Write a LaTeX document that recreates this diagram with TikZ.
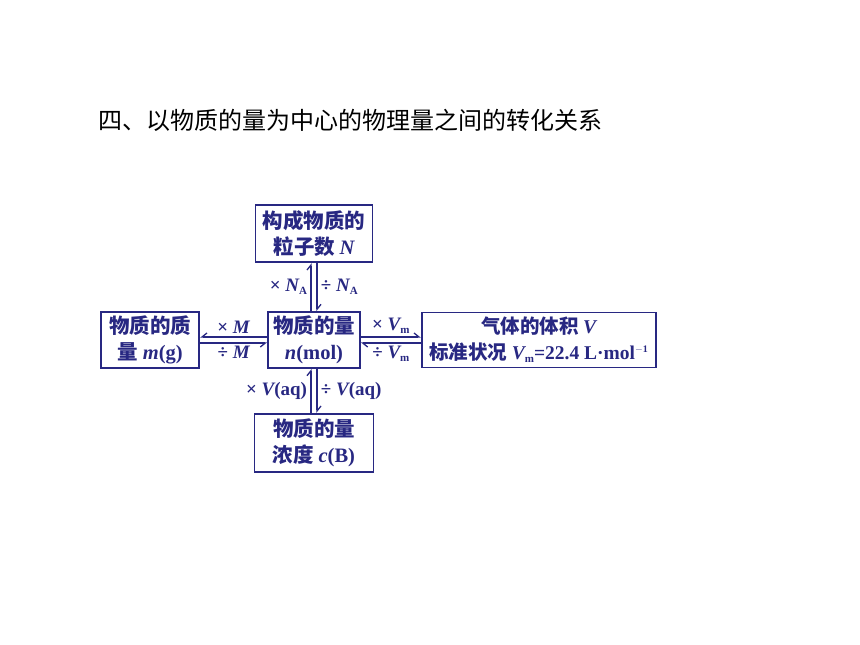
\documentclass[tikz,border=0pt]{standalone}
\usepackage{fontspec}
\setmainfont{Liberation Serif}
\newfontfamily\cjk{Noto Sans CJK SC}
\usetikzlibrary{positioning,arrows.meta}
\definecolor{navy}{RGB}{40,40,130}
\newcommand\qvar[1]{{\rmfamily\itshape #1}}
\newcommand\qsub[1]{\raisebox{-3pt}{\rmfamily\upshape\fontsize{11}{11}\selectfont #1}}

\begin{document}
\begin{tikzpicture}[x=1pt,y=-1pt,
    box/.style={draw=navy, line width=1.7pt, text=navy, align=center, inner sep=1pt,
      font=\cjk\bfseries\fontsize{20.5}{26}\selectfont},
    conv/.style={draw=navy, line width=1.3pt, text=navy,
      font=\rmfamily\bfseries\fontsize{19}{19}\selectfont},
    harpl/.style={conv, -{Straight Barb[left, length=5pt, width=8pt]}},
    harpr/.style={conv, -{Straight Barb[right, length=5pt, width=8pt]}}]
    \useasboundingbox (0,0) rectangle (860,645);
    \node (title) [anchor=west, font=\cjk\fontsize{24}{24}\selectfont] at (95,120) {四、以物质的量为中心的物理量之间的转化关系};
    \node (amount) [box, minimum width=92pt, minimum height=56pt] at (314,340) {物质的量\\\qvar{n}{\rmfamily(mol)}};
    \node (particles) [box, minimum width=117pt, minimum height=57pt, above=48pt of amount] {构成物质的\\粒子数 \qvar{N}};
    \node (mass) [box, minimum width=98pt, minimum height=56pt, left=67pt of amount] {物质的质\\量 \qvar{m}{\rmfamily(g)}};
    \node (gas) [box, minimum width=234pt, minimum height=55pt, right=60pt of amount,
      font=\cjk\bfseries\fontsize{19.5}{26}\selectfont] {气体的体积 \qvar{V}\\标准状况 \qvar{V}\qsub{m}{\rmfamily =22.4 L·mol\raisebox{7pt}{\fontsize{10}{10}\selectfont $-$1}}};
    \node (conc) [box, minimum width=119pt, minimum height=58pt, below=44pt of amount] {物质的量\\浓度 \qvar{c}{\rmfamily(B)}};
    % up and down
    \draw[harpl] ([xshift=-3pt]amount.north) -- ([xshift=-3pt]particles.south) node[midway, left] {× \qvar{N}\qsub{A}};
    \draw[harpl] ([xshift=3pt]particles.south) -- ([xshift=3pt]amount.north) node[midway, right] {÷ \qvar{N}\qsub{A}};
    \draw[harpl] ([xshift=-3pt]conc.north) -- ([xshift=-3pt]amount.south) node[midway, left] {× \qvar{V}(aq)};
    \draw[harpl] ([xshift=3pt]amount.south) -- ([xshift=3pt]conc.north) node[midway, right] {÷ \qvar{V}(aq)};
    % left and right
    \draw[harpr] ([yshift=3pt]amount.west) -- ([yshift=3pt]mass.east) node[midway, above, inner sep=2.5pt] {× \qvar{M}};
    \draw[harpr] ([yshift=-3pt]mass.east) -- ([yshift=-3pt]amount.west) node[midway, below, inner sep=2.5pt] {÷ \qvar{M}};
    \draw[harpl] ([yshift=3pt]amount.east) -- ([yshift=3pt]gas.west) node[midway, above, inner sep=2.5pt] {× \qvar{V}\qsub{m}};
    \draw[harpl] ([yshift=-3pt]gas.west) -- ([yshift=-3pt]amount.east) node[midway, below, inner sep=2.5pt] {÷ \qvar{V}\qsub{m}};
\end{tikzpicture}
\end{document}
